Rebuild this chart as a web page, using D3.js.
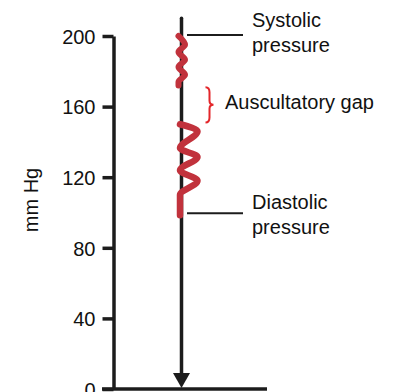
<!DOCTYPE html>
<html>
<head>
<meta charset="utf-8">
<script src="https://cdn.jsdelivr.net/npm/d3@7/dist/d3.min.js"></script>
<style>
  html, body { margin: 0; padding: 0; background: #fff; }
  svg { display: block; }
  text { font-family: "Liberation Sans", Arial, sans-serif; fill: #111; }
</style>
</head>
<body>
<svg id="chart" width="397" height="392"></svg>
<script>
// ---- data ----
const tickValues = [0, 40, 80, 120, 160, 200];
const axisLabel = "mm Hg";
const systolic = 200;
const diastolic = 99;
const lineTop = 210;             // top of the measurement line (mmHg)
const gapRange = [151, 171];     // auscultatory gap (mmHg)
// turning points of the Korotkoff-sound wiggles (mmHg) and side (0 = left, 1 = right)
const wiggle1Values = [200, 195, 191, 186.5, 182.5, 178, 174, 172];
const wiggle1Sides  = [0, 1, 0, 1, 0, 1, 0, 0];
const wiggle2Values = [150, 146, 136.5, 131.5, 124, 118, 110, 103, 98.5];
const wiggle2Sides  = [0, 1, 0, 1, 0, 1, 0, 0, 0];
const labels = [
  { value: systolic, lines: ["Systolic", "pressure"] },
  { value: diastolic, lines: ["Diastolic", "pressure"] }
];
const gapLabel = "Auscultatory gap";

// ---- drawing ----
const svg = d3.select("#chart");
const ink = "#1c1c1c";
const red = "#c1323c";
const braceRed = "#e3262a";

const y = d3.scaleLinear().domain([0, 200]).range([389, 36]);
const axisX = 113.5;
const cx = 181.5;

// axis
const axis = d3.axisLeft(y).tickValues(tickValues).tickSize(11).tickSizeOuter(0).tickPadding(7);
const g = svg.append("g").attr("transform", `translate(${axisX},0)`).call(axis);
g.select(".domain").attr("stroke", ink).attr("stroke-width", 3.5);
g.selectAll(".tick line").attr("stroke", ink).attr("stroke-width", 3.5);
g.selectAll(".tick text")
  .attr("font-size", 20)
  .attr("font-family", "Liberation Sans, Arial, sans-serif")
  .attr("fill", "#111")
  .attr("dy", "0.36em");

// baseline
svg.append("line")
  .attr("x1", 102).attr("x2", 267)
  .attr("y1", y(0)).attr("y2", y(0))
  .attr("stroke", ink).attr("stroke-width", 3.5);

// axis title
svg.append("text")
  .attr("transform", `translate(38,200) rotate(-90)`)
  .attr("text-anchor", "middle")
  .attr("font-size", 20)
  .text(axisLabel);

// measurement line with arrow
svg.append("line")
  .attr("x1", cx).attr("x2", cx)
  .attr("y1", y(lineTop)).attr("y2", y(0) - 14)
  .attr("stroke", ink).attr("stroke-width", 3.5).attr("stroke-linecap", "round");
svg.append("path")
  .attr("d", `M${cx - 8.5},${y(0) - 16} L${cx + 8.5},${y(0) - 16} L${cx},${y(0) - 1} Z`)
  .attr("fill", ink);

// wiggles
function wiggle(values, sides, left, right, width) {
  const pts = values.map((v, i) => [cx + (sides[i] ? right : left), y(v)]);
  svg.append("path")
    .attr("d", d3.line().curve(d3.curveMonotoneY)(pts))
    .attr("fill", "none")
    .attr("stroke", red)
    .attr("stroke-width", width)
    .attr("stroke-linecap", "round")
    .attr("stroke-linejoin", "round");
}
wiggle(wiggle1Values, wiggle1Sides, -3, 3.5, 6);
wiggle(wiggle2Values, wiggle2Sides, -1.5, 16, 6.5);

// label leader lines and text
labels.forEach((l, i) => {
  const yy = y(l.value) - 1;
  svg.append("line")
    .attr("x1", 187).attr("x2", 243)
    .attr("y1", yy).attr("y2", yy)
    .attr("stroke", ink).attr("stroke-width", 2);
  const t = svg.append("text")
    .attr("x", 252)
    .attr("y", yy - (i === 0 ? 8 : 4))
    .attr("font-size", 20);
  l.lines.forEach((s, k) => {
    t.append("tspan").attr("x", 252).attr("dy", k === 0 ? 0 : 25).text(s);
  });
});

// auscultatory gap brace
const bx = 205.5, yt = y(gapRange[1]), yb = y(gapRange[0]), ym = (yt + yb) / 2;
svg.append("path")
  .attr("d", `M${bx},${yt} Q${bx + 4},${yt} ${bx + 4},${yt + 5} L${bx + 4},${ym - 4} Q${bx + 4},${ym} ${bx + 8},${ym} Q${bx + 4},${ym} ${bx + 4},${ym + 4} L${bx + 4},${yb - 5} Q${bx + 4},${yb} ${bx},${yb}`)
  .attr("fill", "none")
  .attr("stroke", braceRed)
  .attr("stroke-width", 2);
svg.append("text")
  .attr("x", 225)
  .attr("y", ym + 4.5)
  .attr("font-size", 20)
  .text(gapLabel);
</script>
</body>
</html>
